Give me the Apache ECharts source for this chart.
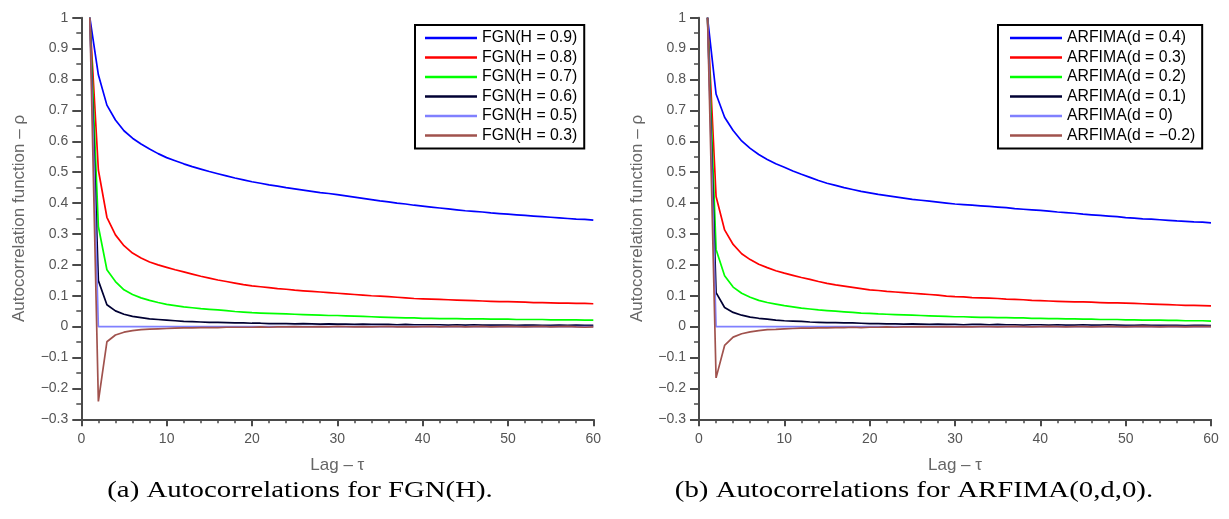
<!DOCTYPE html>
<html>
<head>
<meta charset="utf-8">
<script src="https://cdn.jsdelivr.net/npm/echarts@6/dist/echarts.min.js"></script>
<style>
html,body{margin:0;padding:0;background:#fff;}
#chart{width:1229px;height:519px;}
</style>
</head>
<body>
<div id="chart"></div>
<script>
// ---- data ----
const lags = [1,2,3,4,5,6,7,8,9,10,11,12,13,14,15,16,17,18,19,20,21,22,23,24,25,26,27,28,29,30,31,32,33,34,35,36,37,38,39,40,41,42,43,44,45,46,47,48,49,50,51,52,53,54,55,56,57,58,59,60];

const fgnNames = ['FGN(H = 0.9)','FGN(H = 0.8)','FGN(H = 0.7)','FGN(H = 0.6)','FGN(H = 0.5)','FGN(H = 0.3)'];
const arfimaNames = ['ARFIMA(d = 0.4)','ARFIMA(d = 0.3)','ARFIMA(d = 0.2)','ARFIMA(d = 0.1)','ARFIMA(d = 0)','ARFIMA(d = \u22120.2)'];

const fgnH09 = [1.000,0.815,0.717,0.669,0.634,0.610,0.591,0.575,0.560,0.547,0.537,0.527,0.518,0.510,0.502,0.495,0.488,0.481,0.475,0.469,0.464,0.459,0.455,0.450,0.446,0.442,0.438,0.434,0.431,0.427,0.423,0.419,0.415,0.411,0.407,0.404,0.400,0.397,0.393,0.390,0.387,0.384,0.381,0.378,0.375,0.373,0.371,0.368,0.366,0.364,0.362,0.360,0.358,0.356,0.354,0.352,0.350,0.348,0.347,0.345];
const fgnH08 = [1.000,0.507,0.354,0.297,0.262,0.238,0.222,0.209,0.200,0.192,0.184,0.177,0.170,0.163,0.157,0.151,0.146,0.141,0.136,0.132,0.129,0.126,0.123,0.121,0.118,0.116,0.114,0.112,0.110,0.108,0.106,0.104,0.102,0.100,0.099,0.097,0.095,0.093,0.091,0.090,0.089,0.088,0.087,0.086,0.085,0.084,0.083,0.082,0.081,0.081,0.080,0.079,0.078,0.078,0.077,0.076,0.076,0.075,0.075,0.074];
const fgnH07 = [1.000,0.324,0.184,0.146,0.119,0.104,0.093,0.085,0.078,0.072,0.068,0.064,0.061,0.058,0.056,0.054,0.052,0.049,0.047,0.045,0.044,0.043,0.042,0.041,0.040,0.039,0.038,0.037,0.036,0.036,0.035,0.034,0.033,0.032,0.031,0.030,0.029,0.028,0.028,0.027,0.027,0.026,0.026,0.026,0.025,0.025,0.025,0.024,0.024,0.024,0.023,0.023,0.023,0.023,0.022,0.022,0.022,0.022,0.021,0.021];
const fgnH06 = [1.000,0.149,0.071,0.051,0.040,0.033,0.029,0.025,0.023,0.021,0.019,0.017,0.016,0.015,0.014,0.014,0.013,0.012,0.012,0.011,0.011,0.010,0.010,0.010,0.009,0.010,0.009,0.008,0.009,0.008,0.008,0.007,0.008,0.007,0.007,0.007,0.006,0.007,0.006,0.006,0.006,0.006,0.005,0.006,0.005,0.006,0.005,0.005,0.005,0.005,0.004,0.005,0.005,0.004,0.004,0.005,0.004,0.005,0.004,0.004];
const fgnH05 = [1,0,0,0,0,0,0,0,0,0,0,0,0,0,0,0,0,0,0,0,0,0,0,0,0,0,0,0,0,0,0,0,0,0,0,0,0,0,0,0,0,0,0,0,0,0,0,0,0,0,0,0,0,0,0,0,0,0,0,0];
const fgnH03 = [1.000,-0.242,-0.049,-0.027,-0.018,-0.013,-0.010,-0.008,-0.007,-0.006,-0.005,-0.004,-0.004,-0.003,-0.003,-0.003,-0.002,-0.002,-0.002,-0.002,-0.001,-0.002,-0.001,-0.001,0.000,-0.001,-0.001,0.000,-0.001,0.001,0.000,-0.001,0.000,-0.001,0.000,0.001,-0.001,0.000,-0.001,0.000,0.001,-0.001,0.000,0.001,-0.001,0.000,0.001,-0.001,0.000,0.001,0.000,-0.001,0.000,0.001,-0.001,0.000,0.001,-0.001,-0.002,-0.001];

const arfD04 = [1.000,0.753,0.678,0.635,0.601,0.577,0.557,0.541,0.527,0.516,0.504,0.493,0.483,0.473,0.464,0.457,0.450,0.444,0.438,0.433,0.428,0.424,0.420,0.416,0.412,0.409,0.406,0.403,0.400,0.397,0.395,0.393,0.391,0.389,0.387,0.385,0.382,0.380,0.378,0.376,0.374,0.371,0.369,0.367,0.364,0.362,0.360,0.358,0.356,0.353,0.351,0.349,0.348,0.346,0.344,0.342,0.341,0.339,0.338,0.336];
const arfD03 = [1.000,0.421,0.313,0.266,0.236,0.217,0.202,0.191,0.181,0.173,0.166,0.159,0.153,0.146,0.140,0.135,0.131,0.127,0.123,0.119,0.117,0.114,0.112,0.110,0.108,0.106,0.104,0.102,0.099,0.097,0.096,0.094,0.093,0.092,0.091,0.089,0.088,0.087,0.085,0.084,0.083,0.082,0.081,0.080,0.080,0.079,0.078,0.077,0.077,0.076,0.075,0.074,0.073,0.072,0.071,0.070,0.069,0.069,0.068,0.067];
const arfD02 = [1.000,0.250,0.165,0.128,0.108,0.095,0.085,0.078,0.073,0.068,0.064,0.060,0.057,0.054,0.052,0.050,0.048,0.046,0.044,0.043,0.041,0.040,0.039,0.038,0.037,0.036,0.035,0.034,0.033,0.032,0.032,0.031,0.030,0.030,0.029,0.029,0.028,0.028,0.027,0.027,0.026,0.026,0.025,0.025,0.024,0.024,0.023,0.023,0.023,0.022,0.022,0.021,0.021,0.021,0.020,0.020,0.019,0.019,0.019,0.018];
const arfD01 = [1.000,0.110,0.062,0.046,0.037,0.031,0.027,0.024,0.021,0.019,0.018,0.017,0.015,0.014,0.013,0.013,0.012,0.012,0.011,0.010,0.010,0.009,0.009,0.008,0.009,0.008,0.007,0.008,0.007,0.007,0.006,0.007,0.007,0.006,0.007,0.006,0.006,0.005,0.006,0.006,0.005,0.006,0.005,0.005,0.006,0.005,0.005,0.006,0.005,0.004,0.004,0.005,0.004,0.004,0.004,0.004,0.003,0.004,0.004,0.003];
const arfD00 = [1,0,0,0,0,0,0,0,0,0,0,0,0,0,0,0,0,0,0,0,0,0,0,0,0,0,0,0,0,0,0,0,0,0,0,0,0,0,0,0,0,0,0,0,0,0,0,0,0,0,0,0,0,0,0,0,0,0,0,0];
const arfDm02 = [1.000,-0.166,-0.061,-0.034,-0.023,-0.017,-0.013,-0.010,-0.009,-0.007,-0.006,-0.005,-0.005,-0.004,-0.004,-0.003,-0.003,-0.002,-0.003,-0.002,-0.002,-0.001,-0.002,-0.001,-0.001,0.000,-0.001,-0.001,0.000,-0.001,0.000,-0.001,0.000,0.000,-0.001,0.000,0.001,0.000,-0.001,0.000,0.001,0.000,-0.001,0.000,0.000,-0.001,0.000,0.001,0.000,-0.001,0.000,0.001,0.000,-0.001,0.000,0.000,-0.001,0.000,0.000,0.000];

const xTicks = [0,10,20,30,40,50,60];
const yTickMin = -0.3, yTickMax = 1, yTickStep = 0.1;
const xLabel = 'Lag \u2013 \u03c4';
const yLabel = 'Autocorrelation function \u2013 \u03c1';
const captionA = '(a) Autocorrelations for FGN(H).';
const captionB = '(b) Autocorrelations for ARFIMA(0,d,0).';

const colors = ['#0000ff','#ff0000','#00ff00','#000033','#8080ff','#a0524d'];
const fgnData = [fgnH09,fgnH08,fgnH07,fgnH06,fgnH05,fgnH03];
const arfData = [arfD04,arfD03,arfD02,arfD01,arfD00,arfDm02];

// ---- chart ----
const axisColor = '#4a4a4a';
const labelColor = '#555';
const sans = '"Liberation Sans", Arial, sans-serif';
const serifFont = '24px "Liberation Serif", "Times New Roman", serif';

function xAxisDef(gi){
  return {
    gridIndex: gi, type: 'value', min: xTicks[0], max: xTicks[xTicks.length-1], interval: 10,
    name: xLabel, nameLocation: 'middle', nameGap: 38,
    nameTextStyle: {color: '#666', fontSize: 17, fontFamily: sans},
    axisLine: {show: true, onZero: false, lineStyle: {color: axisColor, width: 2}},
    axisTick: {show: true, inside: false, length: 7, lineStyle: {color: axisColor, width: 2}},
    minorTick: {show: true, splitNumber: 5, length: 4, lineStyle: {color: axisColor, width: 1.5}},
    axisLabel: {color: labelColor, fontSize: 14, fontFamily: sans, margin: 13},
    splitLine: {show: false}
  };
}
function yAxisDef(gi){
  return {
    gridIndex: gi, type: 'value', min: yTickMin, max: yTickMax, interval: yTickStep,
    name: yLabel, nameLocation: 'middle', nameGap: 53, nameRotate: 90,
    nameTextStyle: {color: '#666', fontSize: 17, fontFamily: sans},
    axisLine: {show: true, onZero: false, lineStyle: {color: axisColor, width: 2}},
    axisTick: {show: true, inside: false, length: 9, lineStyle: {color: axisColor, width: 2}},
    minorTick: {show: true, splitNumber: 2, length: 5, lineStyle: {color: axisColor, width: 1.5}},
    axisLabel: {color: labelColor, fontSize: 14, fontFamily: sans, margin: 13,
      formatter: function(v){ const r = Math.round(v*10)/10; return (r < 0 ? '\u2212' + String(-r) : String(r)); }},
    splitLine: {show: false}
  };
}
function mkSeries(names, datas, gi){
  return names.map(function(n, i){
    return {
      name: n, type: 'line', xAxisIndex: gi, yAxisIndex: gi,
      data: lags.map(function(x, k){ return [x, datas[i][k]]; }),
      showSymbol: false, symbol: 'none', smooth: false,
      lineStyle: {color: colors[i], width: 1.7}, itemStyle: {color: colors[i]},
      z: 2 + i
    };
  });
}
function legendDef(names, left, padL){
  return {
    data: names, orient: 'vertical', left: left, top: 25,
    backgroundColor: '#fff', borderColor: '#000', borderWidth: 2,
    padding: [5, 7, 5, padL], itemGap: 3.5, itemWidth: 52, itemHeight: 2.5,
    icon: 'rect', selectedMode: false,
    textStyle: {color: '#000', fontSize: 15.8, fontFamily: sans, lineHeight: 16}
  };
}

const chart = echarts.init(document.getElementById('chart'), null, {renderer: 'canvas'});
chart.setOption({
  animation: false,
  backgroundColor: '#fff',
  grid: [
    {left: 81.3, top: 17.7, width: 512, height: 401.6},
    {left: 699, top: 17.7, width: 512, height: 401.6}
  ],
  xAxis: [xAxisDef(0), xAxisDef(1)],
  yAxis: [yAxisDef(0), yAxisDef(1)],
  legend: [legendDef(fgnNames, 415, 10), legendDef(arfimaNames, 998, 12)],
  series: mkSeries(fgnNames, fgnData, 0).concat(mkSeries(arfimaNames, arfData, 1)),
  graphic: [
    {type: 'text', x: 300, y: 491, scaleX: 1.2, style: {x: 0, y: 0, text: captionA, fill: '#000', font: serifFont, textAlign: 'center', textVerticalAlign: 'middle'}},
    {type: 'text', x: 914, y: 491, scaleX: 1.2, style: {x: 0, y: 0, text: captionB, fill: '#000', font: serifFont, textAlign: 'center', textVerticalAlign: 'middle'}}
  ]
});
</script>
</body>
</html>
